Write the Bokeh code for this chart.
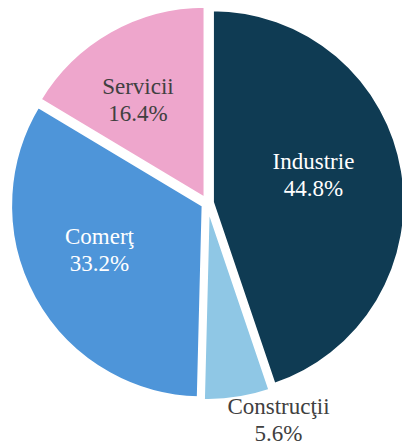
import numpy as np
from bokeh.plotting import figure
from bokeh.models import Range1d, ColumnDataSource
from bokeh.embed import file_html
from bokeh.resources import INLINE
from bokeh.core.properties import value

# ---- data ----
categories = ["Industrie", "Construcţii", "Comerţ", "Servicii"]
shares = [44.8, 5.6, 33.2, 16.4]
colors = ["#0f3b53", "#8fc7e5", "#4e95d9", "#eea6cc"]
label_colors = ["#ffffff", "#404040", "#ffffff", "#404040"]

# ---- layout ----
W, H = 402, 441
CX, CY = 207.0, -202.5     # pie centre (page px, y up negative)
R = 192.5                  # radius
EXPLODE = 5.0              # slice offset
LABEL_R = [111.8, 221.0, 115.0, 130.9]
LABEL_ADJ = [-9.2, -10.1, 8.8, -2.6]   # degrees
LABEL_LIFT = 7.0
LINE_GAP = 27

vals = np.array(shares, dtype=float)
frac = vals / vals.sum()
ends = np.cumsum(frac) * 2 * np.pi
starts = ends - frac * 2 * np.pi
mids = (starts + ends) / 2

xs = CX + EXPLODE * np.sin(mids)
ys = CY + EXPLODE * np.cos(mids)

src = ColumnDataSource(dict(
    x=xs, y=ys,
    start=np.pi / 2 - ends, end=np.pi / 2 - starts,
    color=colors, cat=categories,
))

p = figure(width=W, height=H,
           x_range=Range1d(0, W), y_range=Range1d(-H, 0),
           output_backend="svg", toolbar_location=None, min_border=0,
           x_axis_location=None, y_axis_location=None)
p.grid.visible = False
p.outline_line_color = None
p.background_fill_color = "white"

p.wedge(x="x", y="y", radius=R, start_angle="start", end_angle="end",
        fill_color="color", line_color="white", line_width=3, source=src)

la = mids + np.radians(LABEL_ADJ)
lx = CX + np.array(LABEL_R) * np.sin(la)
ly = CY - 1.1 + np.array(LABEL_R) * np.cos(la) + LABEL_LIFT

lsrc = ColumnDataSource(dict(
    x=lx, y=ly, y2=ly - LINE_GAP,
    name=categories, pct=[f"{v:.1f}%" for v in shares],
    tc=label_colors,
))
p.text(x="x", y="y", text="name", text_color="tc", source=lsrc,
       text_font=value("Liberation Serif"), text_font_size="23px",
       text_align="center", text_baseline="alphabetic")
p.text(x="x", y="y2", text="pct", text_color="tc", source=lsrc,
       text_font=value("Liberation Serif"), text_font_size="23px",
       text_align="center", text_baseline="alphabetic")

open("out.html", "w").write(file_html(p, INLINE))
